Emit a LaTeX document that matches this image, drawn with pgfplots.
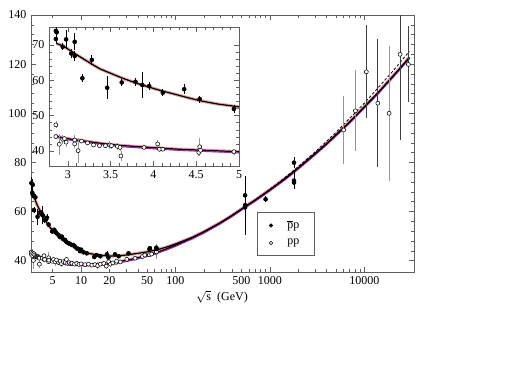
\documentclass[border=0pt]{standalone}
\usepackage{fontspec}
\setmainfont{Liberation Serif}
\usepackage{pgfplots}
\pgfplotsset{compat=1.18}
\usepackage{pgfplotstable}

\definecolor{bandpink}{RGB}{228,165,165}
\definecolor{bandmag}{RGB}{190,20,200}
\definecolor{framegray}{RGB}{95,95,95}
\definecolor{bargray}{RGB}{150,150,150}

% p-bar p data, low energy (also shown in the inset)
\pgfplotstableread{
x y e
2.86 74.0 1.2
2.87 73.6 1.2
2.86 71.7 1.5
2.94 69.5 1.0
2.98 71.6 2.6
3.04 67.6 1.2
3.08 70.9 2.4
3.08 66.9 1.5
3.17 60.6 1.2
3.28 65.8 1.5
3.46 57.9 3.2
3.63 59.4 1.0
3.79 59.6 1.2
3.87 58.7 3.7
3.95 58.4 1.2
4.11 56.5 1.0
4.36 57.5 1.5
4.54 54.7 1.0
4.94 51.9 1.2
}\ppbarlow

\pgfplotstableread{
x y e
5.2 52.6 0.8
5.33 51.8 0.8
5.5 51.2 0.6
5.77 50.5 0.6
5.9 50.0 1.0
6.0 49.6 0.6
6.27 49.8 0.8
6.5 48.7 0.6
6.78 48.4 0.6
7.0 47.6 0.5
7.35 47.1 0.5
7.6 46.9 0.6
8.0 46.4 0.5
8.3 46.4 0.5
8.6 45.8 0.5
9.0 45.0 0.5
9.4 44.8 0.5
9.76 43.9 0.5
10.0 44.5 0.4
10.6 43.4 0.5
11.5 43.0 0.4
13.8 41.5 1.0
14.6 42.3 0.5
16.0 41.8 0.8
18.8 42.6 1.5
19.5 41.3 0.5
22.9 42.6 0.5
25.0 41.8 0.5
31.8 43.0 0.8
53.0 44.7 0.8
53.6 45.1 0.6
62.7 45.3 0.8
63.0 44.8 1.0
546 66.6 1.2
546 62.6 12.0
546 61.7 1.5
900 65.0 1.3
1800 79.9 2.3
1800 72.6 3.4
1800 71.8 2.0
}\ppbarhigh

% p p data, low energy (also shown in the inset)
\pgfplotstableread{
x y e
2.86 47.4 1.0
2.86 44.1 0.6
2.90 41.9 3.0
2.94 43.3 1.2
2.96 43.5 0.8
2.98 42.5 1.5
3.08 43.1 1.5
3.08 42.0 1.2
3.12 40.1 3.5
3.16 42.8 0.6
3.23 42.3 0.5
3.30 41.7 0.5
3.37 41.5 0.5
3.44 41.5 0.5
3.49 41.7 1.2
3.51 41.5 0.8
3.58 41.3 1.0
3.61 41.0 1.0
3.62 38.6 1.5
3.89 41.0 0.4
4.05 42.0 1.0
4.07 40.5 0.8
4.11 40.5 0.6
4.53 39.6 1.0
4.54 41.2 2.5
4.55 40.2 0.8
4.94 39.8 0.8
}\pplow

\pgfplotstableread{
x y e
5.1 40.5 1.0
5.3 39.5 1.5
5.5 40.3 0.8
5.8 39.2 1.0
6.0 39.8 0.7
6.2 38.8 1.2
6.5 39.6 0.6
6.8 39.3 0.6
7.0 40.5 1.0
7.2 38.9 0.6
7.5 39.2 0.5
7.8 38.7 0.8
8.0 39.0 0.5
8.5 38.6 0.6
9.0 38.9 0.4
9.5 38.5 0.5
10.0 38.7 0.4
11.0 38.4 0.5
12.0 38.6 0.5
13.0 38.2 0.5
14.0 38.4 0.4
15.0 38.0 1.5
16.0 38.6 0.5
17.4 38.9 1.0
18.5 37.8 1.2
19.6 39.6 0.5
20.5 38.6 1.0
21.7 39.1 0.6
23.5 39.3 0.6
23.8 39.8 0.6
26.0 39.5 0.5
30.5 40.6 0.5
37.3 41.0 0.5
44.7 41.7 0.3
47.4 42.3 0.5
52.8 42.4 0.4
55.8 42.7 0.5
62.3 43.4 0.4
62.8 43.6 3.0
}\ppmid

\pgfplotstableread{
x y e
6050 93.2 14.0
8040 101.0 16.5
18300 100.0 27.5
}\ppcosgrey

\pgfplotstableread{
x y e
10500 116.9 19.0
13900 104.1 26.0
23900 124.0 35.0
29300 119.9 15.5
}\ppcosdark

% fit curves
\pgfplotstableread{
x y
2.87 70.4
2.95 69.7
3.03 68.4
3.10 67.3
3.20 65.8
3.30 64.3
3.38 63.2
3.50 62.0
3.63 60.7
3.80 59.2
3.96 58.0
4.10 57.0
4.23 56.2
4.40 55.1
4.55 54.2
4.75 53.3
5.00 52.5
5.5 50.9
6 49.6
7 47.6
8 46.1
9 45.0
10 44.1
12 43.0
15 42.3
20 41.9
25 42.0
30 42.3
40 43.0
50 43.6
63 44.4
80 45.5
100 46.8
150 49.5
200 51.8
300 55.5
400 58.5
546 62.0
700 64.7
1000 68.9
1400 73.0
1800 76.3
2500 80.9
3000 83.5
4000 87.7
5000 91.2
7000 96.5
10000 102.6
14000 108.4
20000 115.0
25000 119.2
30000 122.7
}\curveppbar

\pgfplotstableread{
x y
2.86 44.2
2.95 43.7
3.05 43.3
3.20 42.8
3.38 42.2
3.60 41.6
3.96 41.0
4.30 40.5
4.60 40.2
5.00 39.8
6 39.2
7 38.8
8 38.6
10 38.4
12 38.4
15 38.5
20 39.0
25 39.6
30 40.1
40 41.2
50 42.2
63 43.4
80 44.8
100 46.3
150 49.3
200 51.7
300 55.5
400 58.5
546 62.0
700 64.7
1000 68.9
1400 73.0
1800 76.3
2500 80.9
3000 83.5
4000 87.7
5000 91.2
7000 96.5
10000 102.6
14000 108.4
20000 115.0
25000 119.2
30000 122.7
}\curvepp

\pgfplotstableread{
x y
1000 69.0
1800 76.8
3000 84.2
5000 92.2
10000 104.1
20000 117.1
30000 125.2
}\curvedash

\pgfplotsset{
  common/.style={
    scale only axis, clip=true,
    axis line style={framegray, line width=0.5pt},
    every tick/.style={framegray, line width=0.4pt},
    major tick length=4pt, minor tick length=2pt,
    tick label style={font=\fontsize{9}{10}\selectfont},
    label style={font=\fontsize{9}{10}\selectfont},
    /pgf/number format/assume math mode=true,
  },
  pbar/.style={only marks, mark=*, mark size=1.5pt,
    mark options={draw=black, fill=black, line width=0.4pt},
    error bars/y dir=both, error bars/y explicit, error bars/error mark=none,
    error bars/error bar style={black, line width=0.5pt}},
  ppo/.style={only marks, mark=*, mark size=1.5pt,
    mark options={draw=black, fill=white, line width=0.4pt},
    error bars/y dir=both, error bars/y explicit, error bars/error mark=none,
    error bars/error bar style={bargray, line width=0.5pt}},
  ppod/.style={only marks, mark=*, mark size=1.5pt,
    mark options={draw=black, fill=white, line width=0.4pt},
    error bars/y dir=both, error bars/y explicit, error bars/error mark=none,
    error bars/error bar style={black!75, line width=0.5pt}},
}

\begin{document}
\begin{tikzpicture}
\path[use as bounding box] (0,0) rectangle (378.75pt,292.5pt);

% ---------------- main axis
\begin{axis}[common,
  at={(23.25pt,88.5pt)}, anchor=south west,
  width=287.25pt, height=192.75pt,
  xmode=log, xmin=2.95, xmax=33600,
  ymin=35.4, ymax=140,
  xtick={10,100,1000,10000}, xticklabels={10,100,1000,10000},
  extra x ticks={5,20,50,500}, extra x tick labels={5,20,50,500},
  extra x tick style={major tick length=2pt},
  ytick={40,60,80,100,120,140}, minor y tick num=4,
  xlabel={$\sqrt{\mbox{s}}$ \ (GeV)},
  xlabel style={at={(axis description cs:0.4987,-0.0973)}, anchor=center},
  legend style={at={(axis description cs:0.590,0.2335)}, anchor=north west,
    draw=framegray, line width=0.4pt, fill=white,
    inner xsep=9pt, inner ysep=4pt, row sep=2.5pt,
    /tikz/every odd column/.append style={column sep=9pt},
    font=\fontsize{9}{10}\selectfont},
  legend cell align=left,
]
\addplot[bandpink, line width=2.4pt, forget plot] table[x=x,y=y] {\curveppbar};
\addplot[bandpink, line width=2.4pt, forget plot] table[x=x,y=y] {\curvepp};
\addplot[bandmag, line width=0.7pt, yshift=-0.9pt, forget plot] table[x=x,y=y] {\curvepp};
\addplot[black, line width=0.9pt, forget plot] table[x=x,y=y] {\curveppbar};
\addplot[black, line width=0.9pt, forget plot] table[x=x,y=y] {\curvepp};
\addplot[black, dashed, dash pattern=on 2pt off 1.5pt, line width=0.6pt, forget plot] table[x=x,y=y] {\curvedash};

\addplot[ppo, forget plot] table[x=x,y=y,y error=e] {\pplow};
\addplot[ppo, forget plot] table[x=x,y=y,y error=e] {\ppmid};
\addplot[ppo, forget plot] table[x=x,y=y,y error=e] {\ppcosgrey};
\addplot[ppod, forget plot] table[x=x,y=y,y error=e] {\ppcosdark};
\addplot[pbar, forget plot] table[x=x,y=y,y error=e] {\ppbarlow};
\addplot[pbar, forget plot] table[x=x,y=y,y error=e] {\ppbarhigh};

\addlegendimage{only marks, mark=*, mark size=1.3pt, mark options={draw=black, fill=black}}
\addlegendentry{$\overline{\mbox{p}}$p}
\addlegendimage{only marks, mark=*, mark size=1.3pt, mark options={draw=black, fill=white}}
\addlegendentry{pp}
\end{axis}

% ---------------- inset
\begin{axis}[common,
  at={(36.75pt,168pt)}, anchor=south west,
  width=142.5pt, height=104.25pt,
  axis background/.style={fill=white},
  xmin=2.78, xmax=5, ymin=35.75, ymax=75.1,
  xtick={3,3.5,4,4.5,5}, minor x tick num=4,
  ytick={40,50,60,70}, minor y tick num=4,
  major tick length=3.5pt, minor tick length=2pt,
]
\addplot[bandpink, line width=2.4pt, restrict x to domain=2.7:5.05] table[x=x,y=y] {\curveppbar};
\addplot[bandpink, line width=2.4pt, restrict x to domain=2.7:5.05] table[x=x,y=y] {\curvepp};
\addplot[bandmag, line width=0.7pt, yshift=-0.9pt, restrict x to domain=2.7:5.05] table[x=x,y=y] {\curvepp};
\addplot[black, line width=0.9pt, restrict x to domain=2.7:5.05] table[x=x,y=y] {\curveppbar};
\addplot[black, line width=0.9pt, restrict x to domain=2.7:5.05] table[x=x,y=y] {\curvepp};
\addplot[ppo] table[x=x,y=y,y error=e] {\pplow};
\addplot[pbar] table[x=x,y=y,y error=e] {\ppbarlow};
\end{axis}
\end{tikzpicture}
\end{document}
